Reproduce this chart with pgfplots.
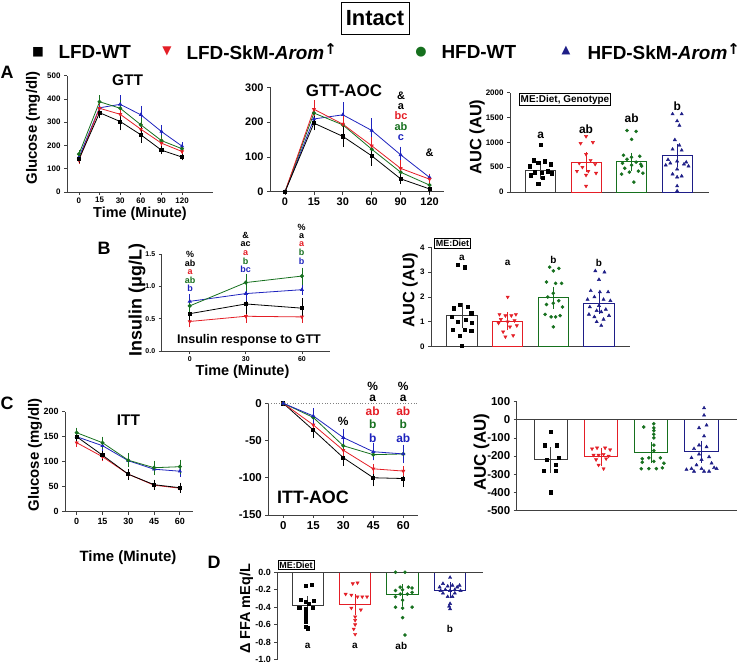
\documentclass[border=0pt]{standalone}
\usepackage{pgfplots}
\pgfplotsset{compat=1.18}
\usepackage{fontspec}
\setmainfont{Liberation Sans}
\newfontfamily\dejavu{DejaVu Sans}
\definecolor{cred}{RGB}{228,30,38}
\definecolor{cgreen}{RGB}{22,112,30}
\definecolor{cblue}{RGB}{30,35,190}
\definecolor{cnavy}{RGB}{30,30,135}
\definecolor{cgray}{RGB}{60,60,60}
\pgfplotsset{
  gp/.style={scale only axis, anchor=south west, axis x line*=bottom, axis y line*=left,
    axis line style={line width=0.8pt, black!75, -}, tick align=outside, major tick length=3pt,
    tick style={line width=0.8pt, black!75},
    /pgf/number format/assume math mode=true, /pgf/number format/1000 sep={},
    scaled y ticks=false, enlargelimits=false, clip=false},
  tf/.style={tick label style={font=\bfseries\fontsize{#1}{#1}\selectfont}},
  gpln/.style={line width=0.8pt, mark size=1.6pt,
    error bars/y dir=both, error bars/y explicit,
    error bars/error bar style={line width=0.6pt},
    error bars/error mark options={mark size=2pt, line width=0.6pt}},
  gpbar/.style={ybar, bar width=0.66, bar shift=0pt, line width=1pt,
    error bars/y dir=both, error bars/y explicit,
    error bars/error bar style={line width=0.9pt},
    error bars/error mark options={mark size=6.5pt, line width=0.9pt}},
  gppts/.style={only marks, mark size=1.6pt},
}
\newcommand{\fs}[1]{\bfseries\fontsize{#1}{#1}\selectfont}
\newcommand{\up}{{\dejavu\bfseries\fontsize{15}{15}\selectfont\raisebox{5pt}{↑}}}
\begin{document}
\begin{tikzpicture}
\path[use as bounding box] (0,0) rectangle (744bp,-665bp);
% header
\node[draw, line width=0.8pt, font=\fs{22}, minimum width=68bp, minimum height=32bp] at (375bp,-18bp) {Intact};
\node[font=\dejavu\fontsize{12.5}{12.5}\selectfont] at (38bp,-52bp) {■};
\node[anchor=west, font=\fs{19}] at (55bp,-52bp) {LFD-WT};
\node[font=\dejavu\fontsize{12}{12}\selectfont, text=cred] at (167bp,-51bp) {▼};
\node[anchor=west, font=\fs{19}] at (183bp,-52bp) {LFD-SkM-\textit{Arom}\up};
\node[font=\dejavu\fontsize{13}{13}\selectfont, text=cgreen] at (421bp,-52bp) {●};
\node[anchor=west, font=\fs{19}] at (438bp,-52bp) {HFD-WT};
\node[font=\dejavu\fontsize{11.5}{11.5}\selectfont, text=cnavy] at (566bp,-51bp) {▲};
\node[anchor=west, font=\fs{19}] at (584bp,-52bp) {HFD-SkM-\textit{Arom}\up};
% panel letters
\node[font=\fs{18}] at (7bp,-72bp) {A};
\node[font=\fs{18}] at (104bp,-248bp) {B};
\node[font=\fs{18}] at (7bp,-403bp) {C};
\node[font=\fs{18}] at (214bp,-562bp) {D};

% ===== A: GTT
\begin{axis}[gp, tf=8, at={(67bp,-192bp)}, width=146bp, height=116.3bp,
  xmin=-0.58, xmax=6.5, ymin=0, ymax=500, xtick={0,...,5},
  xticklabels={0,15,30,60,90,120}, ytick={0,100,...,500}, xticklabel shift=-1pt]
\addplot[gpln, cblue, mark=triangle*] coordinates {(0,150) +- (0,8) (1,362) +- (0,30) (2,377) +- (0,30) (3,332) +- (0,30) (4,260) +- (0,20) (5,197) +- (0,8)};
\addplot[gpln, cgreen, mark=*] coordinates {(0,163) +- (0,8) (1,388) +- (0,20) (2,360) +- (0,25) (3,289) +- (0,22) (4,221) +- (0,15) (5,186) +- (0,8)};
\addplot[gpln, cred, mark=triangle*, mark options={rotate=180}] coordinates {(0,137) +- (0,8) (1,360) +- (0,15) (2,334) +- (0,20) (3,270) +- (0,20) (4,210) +- (0,12) (5,174) +- (0,10)};
\addplot[gpln, black, mark=square*] coordinates {(0,141) +- (0,8) (1,341) +- (0,15) (2,303) +- (0,30) (3,246) +- (0,25) (4,180) +- (0,10) (5,150) +- (0,5)};
\end{axis}
\node[rotate=90, font=\fs{15}] at (33bp,-128bp) {Glucose (mg/dl)};
\node[font=\fs{14.5}] at (140bp,-214bp) {Time (Minute)};
\node[font=\fs{15.5}] at (127.5bp,-80bp) {GTT};

% ===== A: GTT-AOC
\begin{axis}[gp, tf=11, at={(270bp,-191.7bp)}, width=174bp, height=104.4bp,
  xmin=-0.52, xmax=5.5, ymin=0, ymax=300, xtick={0,...,5},
  xticklabels={0,15,30,60,90,120}, ytick={0,100,200,300}]
\addplot[gpln, cblue, mark=triangle*] coordinates {(0,0) (1,209) +- (0,20) (2,221) +- (0,30) (3,176) +- (0,30) (4,106) +- (0,18) (5,41) +- (0,5)};
\addplot[gpln, cgreen, mark=*] coordinates {(0,0) (1,226) +- (0,18) (2,192) +- (0,20) (3,122) +- (0,15) (4,56) +- (0,10) (5,19) +- (0,6)};
\addplot[gpln, cred, mark=triangle*, mark options={rotate=180}] coordinates {(0,0) (1,237) +- (0,20) (2,194) +- (0,20) (3,132) +- (0,20) (4,67) +- (0,18) (5,36) +- (0,8)};
\addplot[gpln, black, mark=square*] coordinates {(0,0) (1,197) +- (0,15) (2,159) +- (0,25) (3,103) +- (0,23) (4,37) +- (0,8) (5,8) +- (0,5)};
\end{axis}
\node[font=\fs{17}] at (344bp,-91bp) {GTT-AOC};
\begin{scope}[font=\fs{11}]
\node at (401bp,-96bp) {\&};
\node at (401bp,-107bp) {a};
\node[text=cred] at (401bp,-116bp) {bc};
\node[text=cgreen] at (401bp,-127bp) {ab};
\node[text=cblue] at (401bp,-138bp) {c};
\node at (429.5bp,-153bp) {\&};
\end{scope}

% ===== A: AUC
\begin{axis}[gp, tf=8, at={(510bp,-192bp)}, width=199bp, height=99.3bp,
  xmin=-0.67, xmax=3.7, ymin=0, ymax=2000, xtick=\empty, ytick={0,500,...,2000}]
\addplot[gpbar, cgray, fill=white] coordinates {(0,440) +- (0,50)};
\addplot[gpbar, cred, fill=white] coordinates {(1,600) +- (0,70)};
\addplot[gpbar, cgreen, fill=white] coordinates {(2,605) +- (0,60)};
\addplot[gpbar, cnavy, fill=white] coordinates {(3,730) +- (0,100)};
\addplot[gppts, black, mark=square*] coordinates {(0.00,960)(-0.15,640)(0.10,620)(-0.05,590)(0.22,560)(-0.24,520)(0.15,420)(-0.12,400)(0.02,390)(0.24,380)(-0.22,340)(0.05,290)(-0.05,160)};
\addplot[gppts, cred, mark=triangle*, mark options={rotate=180}, mark size=1.9pt] coordinates {(1.00,1120)(1.15,1000)(0.88,980)(1.00,760)(1.10,640)(0.85,580)(1.20,560)(0.92,500)(1.05,420)(0.80,420)(1.22,380)(1.00,340)(1.00,120)};
\addplot[gppts, cgreen, mark=*] coordinates {(1.90,1240)(2.10,1220)(2.00,1060)(1.82,740)(2.18,720)(2.00,700)(1.90,660)(2.10,600)(1.80,580)(2.20,560)(2.00,540)(1.85,480)(2.15,420)(1.95,400)(2.25,380)(1.78,360)(2.05,200)(2.22,520)};
\addplot[gppts, cnavy, mark=triangle*, mark size=1.9pt] coordinates {(2.90,1570)(3.10,1570)(3.00,1430)(3.05,1340)(2.95,1050)(3.05,940)(2.90,860)(3.10,840)(2.80,650)(3.00,620)(3.20,600)(2.85,580)(3.15,560)(2.75,540)(3.25,520)(3.00,460)(2.90,360)(3.10,320)(3.00,300)(3.00,120)(3.00,20)};
\end{axis}
\node[rotate=90, font=\fs{16.5}] at (477bp,-137bp) {AUC (AU)};
\node[draw, line width=0.6pt, inner sep=1.5pt, font=\fs{10}] at (565bp,-99.5bp) {ME:Diet, Genotype};
\begin{scope}[font=\fs{12}]
\node at (540.7bp,-135bp) {a};
\node at (586bp,-129.3bp) {ab};
\node at (631.7bp,-118.3bp) {ab};
\node at (677.3bp,-106.7bp) {b};
\end{scope}

% ===== B: insulin
\begin{axis}[gp, tf=7, at={(161.7bp,-351.3bp)}, width=168.3bp, height=97.3bp,
  xmin=-15, xmax=75, ymin=0, ymax=1.5, xtick={0,30,60}, ytick={0,0.5,1,1.5}, xticklabel shift=-1.5pt,
  y tick label style={/pgf/number format/.cd, fixed, fixed zerofill, precision=1, /tikz/.cd}]
\addplot[gpln, cred, mark=triangle*, mark options={rotate=180}] coordinates {(0,0.46) +- (0,0.06) (30,0.54) +- (0,0.07) (60,0.53) +- (0,0.06)};
\addplot[gpln, black, mark=square*] coordinates {(0,0.58) +- (0,0.08) (30,0.73) +- (0,0.12) (60,0.665) +- (0,0.12)};
\addplot[gpln, cblue, mark=triangle*] coordinates {(0,0.77) +- (0,0.08) (30,0.89) +- (0,0.08) (60,0.95) +- (0,0.05)};
\addplot[gpln, cgreen, mark=*] coordinates {(0,0.70) +- (0,0.08) (30,1.06) +- (0,0.10) (60,1.16) +- (0,0.10)};
\end{axis}
\node[rotate=90, font=\fs{18}] at (137bp,-300bp) {Insulin (μg/L)};
\node[font=\fs{14.5}] at (242.5bp,-372bp) {Time (Minute)};
\node[font=\fs{12.6}] at (249bp,-340bp) {Insulin response to GTT};
\begin{scope}[font=\fs{9}]
\node at (190bp,-254bp) {\%};
\node at (190bp,-263bp) {ab};
\node[text=cred] at (190bp,-271.7bp) {a};
\node[text=cgreen] at (190bp,-280bp) {ab};
\node[text=cblue] at (190bp,-288.3bp) {b};
\node at (245.7bp,-235bp) {\&};
\node at (245.7bp,-244.3bp) {ac};
\node[text=cred] at (245.7bp,-252.7bp) {a};
\node[text=cgreen] at (245.7bp,-261bp) {b};
\node[text=cblue] at (245.7bp,-269.3bp) {bc};
\node at (301.7bp,-227bp) {\%};
\node at (301.7bp,-236bp) {a};
\node[text=cred] at (301.7bp,-244.5bp) {a};
\node[text=cgreen] at (301.7bp,-252.7bp) {b};
\node[text=cblue] at (301.7bp,-261bp) {b};
\end{scope}

% ===== B: AUC
\begin{axis}[gp, tf=8, at={(431bp,-346.7bp)}, width=199bp, height=99.4bp,
  xmin=-0.68, xmax=3.68, ymin=0, ymax=4, xtick=\empty, ytick={0,1,2,3,4}]
\addplot[gpbar, cgray, fill=white] coordinates {(0,1.25) +- (0,0.25)};
\addplot[gpbar, cred, fill=white] coordinates {(1,1.03) +- (0,0.10)};
\addplot[gpbar, cgreen, fill=white] coordinates {(2,1.97) +- (0,0.18)};
\addplot[gpbar, cnavy, fill=white] coordinates {(3,1.74) +- (0,0.15)};
\addplot[gppts, black, mark=square*] coordinates {(-0.10,3.3)(0.05,3.2)(-0.05,1.7)(0.12,1.6)(-0.18,1.55)(0.20,1.35)(-0.22,1.2)(0.08,1.1)(-0.10,1.0)(0.22,0.95)(-0.20,0.7)(0.05,0.7)(0.20,0.65)(-0.05,0.45)(0.00,0.05)};
\addplot[gppts, cred, mark=triangle*, mark options={rotate=180}, mark size=1.9pt] coordinates {(1.00,2.0)(0.82,1.3)(1.18,1.3)(0.95,1.25)(1.08,1.25)(0.85,1.1)(1.15,1.05)(1.00,1.0)(0.80,0.95)(1.20,0.85)(1.05,0.8)(0.90,0.6)(1.12,0.45)(0.95,0.4)};
\addplot[gppts, cgreen, mark=*] coordinates {(1.92,3.2)(2.12,3.15)(2.00,3.05)(1.85,2.6)(2.05,2.55)(2.18,2.55)(2.00,2.15)(1.88,2.0)(2.12,1.85)(2.00,1.75)(1.85,1.7)(2.20,1.6)(1.82,1.3)(2.15,1.25)(1.95,1.2)(2.05,1.2)(2.00,0.8)};
\addplot[gppts, cnavy, mark=triangle*, mark size=1.9pt] coordinates {(2.92,3.05)(3.12,3.0)(3.00,2.7)(2.82,2.25)(3.02,2.2)(3.20,2.2)(2.90,2.0)(3.10,1.9)(2.75,1.9)(3.25,1.85)(3.00,1.65)(2.80,1.6)(3.15,1.5)(2.95,1.45)(3.05,1.4)(2.78,1.3)(3.22,1.25)(2.90,1.2)(3.10,1.1)(2.95,1.0)(3.05,0.85)};
\end{axis}
\node[rotate=90, font=\fs{16.5}] at (410bp,-290bp) {AUC (AU)};
\node[draw, line width=0.6pt, inner sep=1.5pt, font=\fs{9}] at (452.5bp,-243.5bp) {ME:Diet};
\begin{scope}[font=\fs{10}]
\node at (462bp,-258.3bp) {a};
\node at (507.7bp,-262.7bp) {a};
\node at (553.5bp,-260bp) {b};
\node at (599bp,-262.7bp) {b};
\end{scope}

% ===== C: ITT
\begin{axis}[gp, tf=9, at={(65bp,-511.7bp)}, width=128.3bp, height=100bp,
  xmin=-6.8, xmax=67.8, ymin=0, ymax=200, xtick={0,15,...,60}, ytick={0,50,...,200}]
\addplot[gpln, cblue, mark=triangle*] coordinates {(0,150) +- (0,6) (15,132) +- (0,8) (30,102) +- (0,8) (45,85) +- (0,8) (60,81) +- (0,8)};
\addplot[gpln, cgreen, mark=*] coordinates {(0,158) +- (0,6) (15,138) +- (0,8) (30,103) +- (0,10) (45,88) +- (0,10) (60,90) +- (0,10)};
\addplot[gpln, cred, mark=triangle*, mark options={rotate=180}] coordinates {(0,138) +- (0,4) (15,110) +- (0,5) (30,75) +- (0,6) (45,53) +- (0,5) (60,47) +- (0,5)};
\addplot[gpln, black, mark=square*] coordinates {(0,150) +- (0,5) (15,113) +- (0,5) (30,75) +- (0,7) (45,54) +- (0,6) (60,48) +- (0,6)};
\end{axis}
\node[rotate=90, font=\fs{15}] at (35bp,-455bp) {Glucose (mg/dl)};
\node[font=\fs{15}] at (128bp,-558bp) {Time (Minute)};
\node[font=\fs{15.5}] at (128.5bp,-420bp) {ITT};

% ===== C: ITT-AOC
\begin{axis}[gp, tf=11.5, at={(268.3bp,-515bp)}, width=150bp, height=111.7bp,
  xmin=-7.5, xmax=67.5, ymin=-150, ymax=0, xtick={0,15,...,60}, ytick={-150,-100,-50,0}]
\draw[gray, dotted, line width=0.7pt] (axis cs:-7.5,0) -- (axis cs:67.5,0);
\addplot[gpln, black, mark=square*] coordinates {(0,0) (15,-36) +- (0,8) (30,-73) +- (0,8) (45,-100) +- (0,9) (60,-101) +- (0,9)};
\addplot[gpln, cred, mark=triangle*, mark options={rotate=180}] coordinates {(0,0) (15,-29) +- (0,5) (30,-63) +- (0,6) (45,-88) +- (0,4) (60,-91) +- (0,4)};
\addplot[gpln, cgreen, mark=*] coordinates {(0,0) (15,-19) +- (0,4) (30,-57) +- (0,4) (45,-69) +- (0,5) (60,-68) +- (0,6)};
\addplot[gpln, cblue, mark=triangle*] coordinates {(0,0) (15,-17) +- (0,8) (30,-46) +- (0,9) (45,-65) +- (0,9) (60,-68) +- (0,10)};
\end{axis}
\node[font=\fs{18}] at (313bp,-497bp) {ITT-AOC};
\begin{scope}[font=\fs{12}]
\node at (343.3bp,-421bp) {\%};
\node at (372.7bp,-386bp) {\%};
\node at (372.7bp,-398.3bp) {a};
\node[text=cred] at (372.7bp,-411.7bp) {ab};
\node[text=cgreen] at (372.7bp,-424.3bp) {b};
\node[text=cblue] at (372.7bp,-438.3bp) {b};
\node at (403.3bp,-386bp) {\%};
\node at (403.3bp,-398.3bp) {a};
\node[text=cred] at (403.3bp,-411.7bp) {ab};
\node[text=cgreen] at (403.3bp,-424.3bp) {b};
\node[text=cblue] at (403.3bp,-438.3bp) {ab};
\end{scope}

% ===== C: AUC
\begin{axis}[gp, tf=11.5, at={(516.7bp,-510.3bp)}, width=220bp, height=108.6bp,
  xmin=-0.68, xmax=3.7, ymin=-500, ymax=100, xtick=\empty, ytick={-500,-400,...,100}]
\addplot[gpbar, cgray, fill=white] coordinates {(0,-222) +- (0,35)};
\addplot[gpbar, cred, fill=white] coordinates {(1,-205) +- (0,15)};
\addplot[gpbar, cgreen, fill=white] coordinates {(2,-181) +- (0,20)};
\addplot[gpbar, cnavy, fill=white] coordinates {(3,-177) +- (0,25)};
\draw[black!75, line width=0.8pt] (axis cs:-0.68,0) -- (axis cs:3.7,0);
\addplot[gppts, black, mark=square*] coordinates {(0.00,-65)(-0.12,-140)(0.12,-140)(-0.08,-220)(0.15,-210)(0.10,-250)(-0.15,-280)(0.10,-280)(0.00,-400)};
\addplot[gppts, cred, mark=triangle*, mark options={rotate=180}, mark size=1.9pt] coordinates {(0.82,-160)(0.92,-155)(1.08,-155)(1.18,-165)(0.85,-195)(0.95,-195)(1.05,-190)(1.15,-200)(0.90,-220)(1.10,-215)(0.95,-250)(1.05,-270)};
\addplot[gppts, cgreen, mark=*] coordinates {(1.85,-40)(2.05,-22)(2.05,-45)(2.05,-60)(2.05,-80)(2.05,-100)(2.05,-140)(2.05,-170)(1.82,-215)(1.95,-210)(2.18,-210)(1.82,-235)(2.05,-230)(2.25,-240)(1.80,-270)(1.95,-270)(2.10,-270)(2.22,-265)};
\addplot[gppts, cnavy, mark=triangle*, mark size=1.9pt] coordinates {(3.05,65)(3.05,25)(2.95,-45)(3.10,-30)(3.05,-90)(2.95,-140)(3.10,-150)(2.85,-160)(2.95,-190)(3.15,-205)(2.80,-210)(3.00,-220)(3.20,-240)(2.90,-250)(2.80,-270)(3.00,-270)(3.25,-265)(2.85,-285)(3.05,-285)(3.15,-285)(2.70,-275)(3.30,-270)};
\end{axis}
\node[rotate=90, font=\fs{17}] at (481.5bp,-452bp) {AUC (AU)};

% ===== D
\begin{axis}[gp, tf=9, at={(277.3bp,-659.5bp)}, width=206bp, height=87.2bp, axis x line=none,
  xmin=-0.64, xmax=3.7, ymin=-1, ymax=0, xtick=\empty, ytick={-1,-0.8,-0.6,-0.4,-0.2,0},
  y tick label style={/pgf/number format/.cd, fixed, fixed zerofill, precision=1, /tikz/.cd}]
\addplot[gpbar, cgray, fill=white] coordinates {(0,-0.38) +- (0,0.03)};
\addplot[gpbar, cred, fill=white] coordinates {(1,-0.37) +- (0,0.045)};
\addplot[gpbar, cgreen, fill=white] coordinates {(2,-0.26) +- (0,0.05)};
\addplot[gpbar, cnavy, fill=white] coordinates {(3,-0.205) +- (0,0.02)};
\draw[black!75, line width=0.8pt] (axis cs:-0.64,0) -- (axis cs:3.7,0);
\addplot[gppts, black, mark=square*] coordinates {(-0.05,-0.15)(0.08,-0.14)(-0.15,-0.31)(0.12,-0.33)(-0.05,-0.34)(0.02,-0.36)(-0.18,-0.41)(-0.05,-0.42)(0.10,-0.41)(-0.05,-0.47)(-0.05,-0.52)(-0.05,-0.57)(-0.05,-0.62)(0.00,-0.64)};
\addplot[gppts, cred, mark=triangle*, mark options={rotate=180}, mark size=1.9pt] coordinates {(0.95,-0.13)(1.05,-0.12)(0.80,-0.25)(0.92,-0.26)(1.05,-0.28)(1.15,-0.28)(1.25,-0.28)(0.92,-0.41)(1.12,-0.43)(1.00,-0.51)(1.00,-0.55)(1.00,-0.60)(0.97,-0.65)(1.00,-0.71)};
\addplot[gppts, cgreen, mark=*] coordinates {(1.85,0)(2.05,0)(1.95,-0.17)(2.12,-0.17)(2.20,-0.18)(1.85,-0.21)(2.00,-0.20)(1.95,-0.25)(2.10,-0.25)(1.85,-0.28)(2.00,-0.32)(1.85,-0.40)(2.20,-0.40)(2.00,-0.41)(2.00,-0.52)(2.05,-0.72)(2.20,-0.23)};
\addplot[gppts, cnavy, mark=triangle*, mark size=1.9pt] coordinates {(3.00,-0.06)(2.85,-0.13)(3.20,-0.15)(3.05,-0.15)(2.95,-0.16)(3.15,-0.17)(2.78,-0.17)(2.90,-0.20)(3.10,-0.20)(3.00,-0.21)(2.80,-0.21)(3.22,-0.21)(2.85,-0.24)(3.10,-0.24)(2.95,-0.28)(3.05,-0.28)(3.00,-0.36)(2.98,-0.39)(3.00,-0.42)};
\end{axis}
\node[rotate=90, font=\fs{14.5}] at (246.5bp,-609bp) {Δ FFA mEq/L};
\node[draw, line width=0.6pt, inner sep=1.5pt, font=\fs{9}] at (296bp,-565bp) {ME:Diet};
\begin{scope}[font=\fs{10}]
\node at (307.7bp,-646bp) {a};
\node at (355bp,-646bp) {a};
\node at (401.3bp,-646bp) {ab};
\node at (450bp,-629bp) {b};
\end{scope}
\end{tikzpicture}
\end{document}
